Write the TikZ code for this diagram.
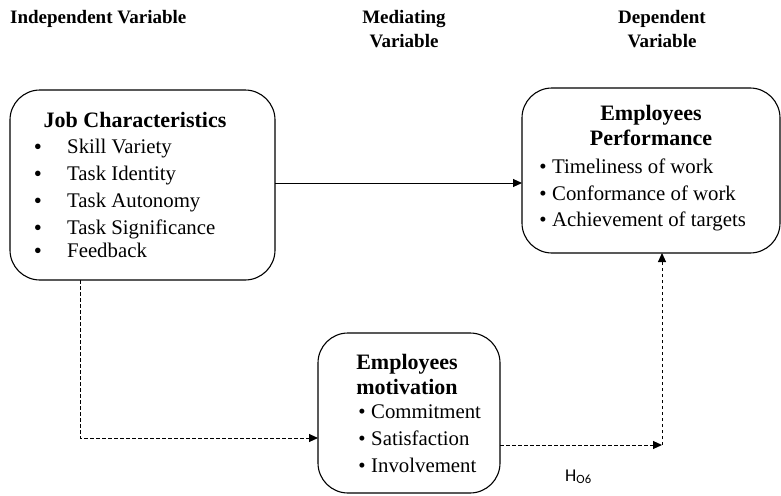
\documentclass[tikz,border=0pt]{standalone}
\usepackage{fontspec}
\setmainfont{Liberation Serif}
\newfontfamily\hfont{Carlito}
\usetikzlibrary{arrows.meta}
\begin{document}
\begin{tikzpicture}[x=1pt,y=-1pt,
  box/.style={draw,line width=1.1pt,rounded corners=30pt,inner sep=0pt},
  hdr/.style={font=\fontsize{19}{22}\selectfont\bfseries,align=center,anchor=base},
  ttl/.style={font=\fontsize{22}{25}\selectfont\bfseries,anchor=base},
  itm/.style={font=\fontsize{20.8}{25}\selectfont,anchor=base west,inner sep=0pt},
  blt/.style={font=\fontsize{20.8}{25}\selectfont,anchor=base,inner sep=0pt},
  bigblt/.style={font=\fontsize{23}{25}\selectfont,anchor=base,inner sep=0pt},
  solidarr/.style={line width=1pt,-{Triangle[length=9pt,width=8pt]}},
  dasharr/.style={line width=1pt,dash pattern=on 3.5pt off 2.5pt,-{Triangle[length=9pt,width=8pt]}}]
\useasboundingbox (0,0) rectangle (781,495);
% headers
\node[hdr,anchor=base west,inner sep=0pt] (h1) at (10,24) {Independent Variable};
\node[hdr] (h2a) at (404,24) {Mediating};
\node[hdr] (h2b) at (404,48) {Variable};
\node[hdr] (h3a) at (662,24) {Dependent};
\node[hdr] (h3b) at (662,48) {Variable};
% boxes
\draw[box] (10,90) rectangle (275,280);
\coordinate (jobE) at (275,183);
\coordinate (jobS) at (80,280);
\draw[box] (522,88) rectangle (780,253);
\coordinate (perfW) at (522,183);
\coordinate (perfS) at (662,253);
\draw[box] (318,333) rectangle (500,493);
\coordinate (motW) at (318,438);
\coordinate (motE) at (500,445);
% job text
\node[ttl] (jt) at (135,127) {Job Characteristics};
\foreach \y/\t [count=\i] in {153/Skill Variety,180/Task Identity,207/Task Autonomy,234/Task Significance,257/Feedback}{
  \node[bigblt] (jb\i) at (38,\y+1) {•};
  \node[itm] (ji\i) at (67,\y) {\t};
}
% perf text
\node[ttl] (pt1) at (651,120) {Employees};
\node[ttl] (pt2) at (651,145) {Performance};
\foreach \y/\t [count=\i] in {173/Timeliness of work,200/Conformance of work,226/Achievement of targets}{
  \node[blt] (pb\i) at (543,\y) {•};
  \node[itm] (pi\i) at (552,\y) {\t};
}
% mot text
\node[ttl] (mt1) at (407,369) {Employees};
\node[ttl] (mt2) at (407,394) {motivation};
\foreach \y/\t [count=\i] in {418/Commitment,445/Satisfaction,472/Involvement}{
  \node[blt] (mb\i) at (362,\y) {•};
  \node[itm] (mi\i) at (371,\y) {\t};
}
% connectors
\draw[solidarr] (jobE) -- (perfW);
\coordinate (c1) at (80,438);
\draw[dasharr] (jobS) -- (c1) -- (motW);
\coordinate (c2) at (662,445);
\draw[dasharr] (motE) -- (c2);
\draw[dasharr] (c2) -- (perfS);
\node[font=\hfont\fontsize{18}{20}\selectfont,anchor=base west,inner sep=0pt] (hl) at (565,481) {H\textsubscript{O6}};
\end{tikzpicture}
\end{document}
